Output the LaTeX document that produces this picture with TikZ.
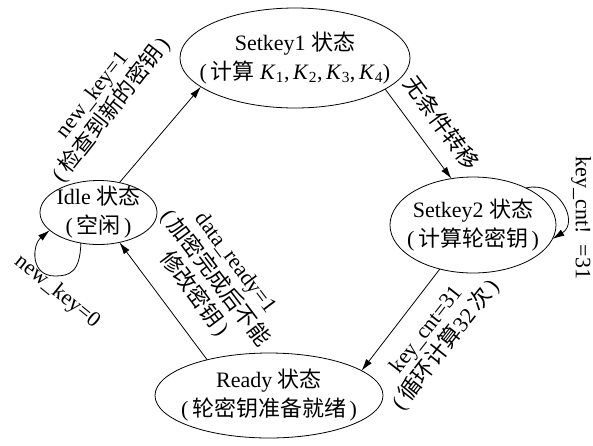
\documentclass[tikz,border=0pt]{standalone}
\usepackage{fontspec}
\setmainfont{Liberation Serif}
\newfontfamily\cjk{Noto Sans CJK SC}
\usetikzlibrary{shapes.geometric,arrows.meta}
\newcommand{\zh}[1]{{\cjk #1}}
\newcommand{\Kk}[1]{\textit{K}\textsubscript{#1}}

\begin{document}
\begin{tikzpicture}[x=1pt,y=-1pt,
  statebox/.style={draw, ellipse, line width=0.8pt, inner sep=0pt, outer sep=0pt},
  statetext/.style={align=center, font=\fontsize{22}{29}\selectfont, inner sep=0pt},
  edgetext/.style={align=center, font=\fontsize{22}{25}\selectfont, inner sep=0pt},
  conn/.style={line width=0.8pt, -{Latex[length=12pt,width=7pt]}},
]
\useasboundingbox (0,0) rectangle (593,445);

% states
\node[statebox, minimum width=230pt, minimum height=100pt] (S1) at (295,58) {};
\node[statetext] (S1t) at (S1) {Setkey1 \zh{状态}\\(\,\zh{计算} \Kk{1},\,\Kk{2},\,\Kk{3},\,\Kk{4})};

\node[statebox, minimum width=117pt, minimum height=64pt] (I) at (98.5,212.5) {};
\node[statetext] (It) at (I) {Idle \zh{状态}\\(\,\zh{空闲}\,)};

\node[statebox, minimum width=166pt, minimum height=96pt] (S2) at (473,225) {};
\node[statetext] (S2t) at (S2) {Setkey2 \zh{状态}\\(\,\zh{计算轮密钥}\,)};

\node[statebox, minimum width=228pt, minimum height=85pt] (R) at (269,395.5) {};
\node[statetext] (Rt) at (R) {Ready \zh{状态}\\(\,\zh{轮密钥准备就绪}\,)};

% transitions
\draw[conn] (I.55) -- (S1.197);
\draw[conn] (S1.-19) -- (S2.115);
\draw[conn] (S2.-127) -- (R.15);
\draw[conn] (R.150) -- (I.-55);
\draw[conn] (I.-120) .. controls (80,272) and (70,276) .. (55,276)
                     .. controls (30,276) and (32,245) .. (I.200);
\draw[conn] (S2.35) .. controls (558,180) and (580,222) .. (S2.-10);

% labels
\node[edgetext, rotate=52] (L1) at (103,103) {new\_key=1\\(\,\zh{检查到新的密钥}\,)};
\node[edgetext, rotate=-53.5] (L2) at (442,123) {\zh{无条件转移}};
\node[edgetext, rotate=-90] (L3) at (581,218) {key\_cnt!\ \ =31};
\node[edgetext, rotate=52] (L4) at (437,338) {key\_cnt=31\\(\,\zh{循环计算}32\,\zh{次}\,)};
\node[edgetext, rotate=-53, font=\fontsize{22}{26}\selectfont] (L5) at (214,279) {data\_ready=1\\(\,\zh{加密完成后不能}\\\zh{修改密钥}\,)};
\node[edgetext, rotate=-39] (L6) at (57,292) {new\_key=0};
\end{tikzpicture}
\end{document}
